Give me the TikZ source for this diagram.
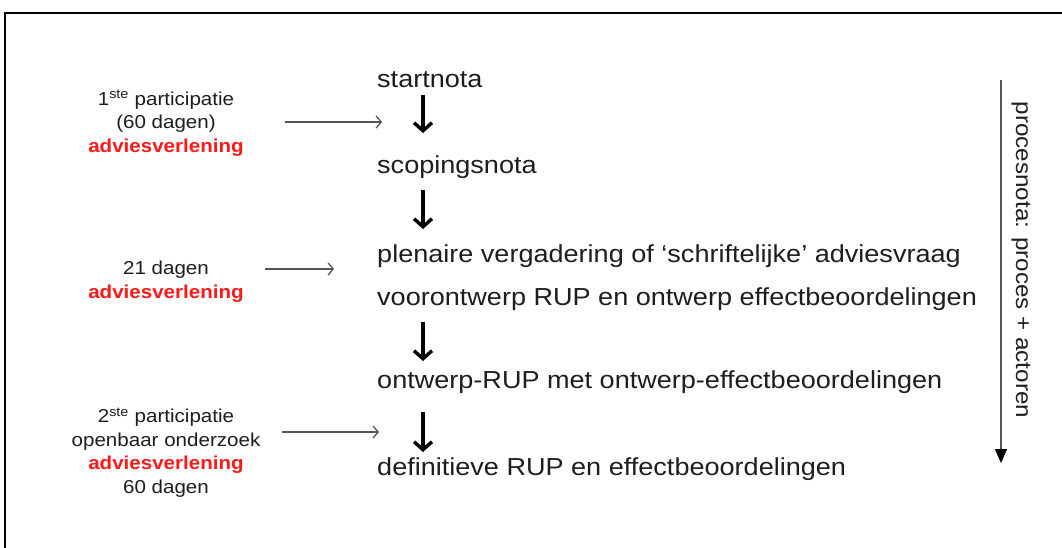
\documentclass[tikz,border=0pt]{standalone}
\usepackage{fontspec}
\setmainfont[FakeStretch=1.1]{Liberation Sans}
\usetikzlibrary{arrows.meta}
\definecolor{txt}{HTML}{1E1E1E}
\definecolor{advred}{HTML}{FF1A1A}
\definecolor{thin}{HTML}{555555}
\tikzset{
  mainlabel/.style={anchor=base west, inner sep=0pt, text=txt, font=\fontsize{24.6}{29}\selectfont},
  sidelabel/.style={align=center, inner sep=0pt, text=txt, font=\fontsize{18.7}{23.5}\selectfont},
  bigarrow/.style={line width=3.4pt, -{Straight Barb[length=8pt,width=18pt,line width=3.4pt]}},
  thinarrow/.style={draw=thin, line width=1.3pt, -{Straight Barb[length=5pt,width=12pt,line width=1.3pt]}},
  procarrow/.style={draw=thin, line width=1.2pt, -{Triangle[length=14pt,width=12pt,fill=black,color=black]}}
}
\newcommand{\advv}{\textcolor{advred}{\textbf{adviesverlening}}}
\begin{document}
\begin{tikzpicture}[x=1pt,y=-1pt]
\useasboundingbox (0,0) rectangle (1062,547);
\fill[white] (0,0) rectangle (1062,547);
\draw[line width=2pt] (5,570) -- (5,13) -- (1080,13);

% main column
\node[mainlabel] (start) at (377,87) {startnota};
\node[mainlabel] (scop) at (377,173) {scopingsnota};
\node[mainlabel] (plen) at (377,262) {plenaire vergadering of ‘schriftelijke’ adviesvraag};
\node[mainlabel] (voor) at (377,305) {voorontwerp RUP en ontwerp effectbeoordelingen};
\node[mainlabel] (ontw) at (377,388) {ontwerp-RUP met ontwerp-effectbeoordelingen};
\node[mainlabel] (defi) at (377,475) {definitieve RUP en effectbeoordelingen};

\coordinate (a1s) at (423,95);  \coordinate (a1e) at (423,133);
\coordinate (a2s) at (423,190); \coordinate (a2e) at (423,229);
\coordinate (a3s) at (423,322); \coordinate (a3e) at (423,361);
\coordinate (a4s) at (423,412); \coordinate (a4e) at (423,452);
\draw[bigarrow] (a1s) -- (a1e);
\draw[bigarrow] (a2s) -- (a2e);
\draw[bigarrow] (a3s) -- (a3e);
\draw[bigarrow] (a4s) -- (a4e);

% side labels (base = baseline of last line)
\node[sidelabel, anchor=base] (l1) at (166,152) {1\textsuperscript{ste} participatie\\(60 dagen)\\\advv};
\node[sidelabel, anchor=base] (l2) at (166,298) {21 dagen\\\advv};
\node[sidelabel, anchor=base] (l3) at (166,493) {2\textsuperscript{ste} participatie\\openbaar onderzoek\\\advv\\60 dagen};

\coordinate (g1s) at (285,122); \coordinate (g1e) at (382,122);
\coordinate (g2s) at (265,269); \coordinate (g2e) at (334,269);
\coordinate (g3s) at (282,432); \coordinate (g3e) at (379,432);
\draw[thinarrow] (g1s) -- (g1e);
\draw[thinarrow] (g2s) -- (g2e);
\draw[thinarrow] (g3s) -- (g3e);

% process arrow
\coordinate (p1) at (1001,80); \coordinate (p2) at (1001,463);
\draw[procarrow] (p1) -- (p2);
\node[rotate=-90, inner sep=0pt, text=txt, font=\fontsize{22}{26}\selectfont] (proc) at (1021,260) {procesnota: proces + actoren};
\end{tikzpicture}
\end{document}
